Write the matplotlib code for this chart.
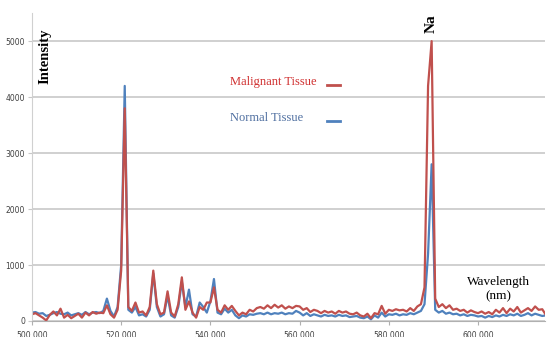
import numpy as np
import matplotlib
matplotlib.use("Agg")
import matplotlib.pyplot as plt

# sample grid of the spectrometer (nm)
wavelength = np.arange(145) * 0.8 + 500.0

malignant = [
    120, 140, 100, 60, 10, 110, 170, 100, 220, 60,
    110, 50, 90, 130, 60, 150, 100, 160, 130, 150,
    140, 280, 120, 60, 200, 900, 3800, 250, 180, 330,
    150, 170, 100, 250, 900, 300, 120, 150, 530, 150,
    80, 300, 780, 200, 350, 150, 60, 250, 200, 330,
    330, 600, 200, 150, 280, 200, 270, 180, 100, 150,
    120, 200, 170, 230, 250, 220, 280, 230, 290, 240,
    280, 220, 260, 230, 270, 260, 200, 230, 160, 200,
    180, 140, 180, 150, 170, 130, 180, 150, 170, 130,
    120, 150, 100, 80, 130, 50, 140, 120, 270, 130,
    200, 180, 210, 190, 200, 170, 230, 180, 260, 300,
    600, 4200, 5000, 400, 250, 300, 230, 280, 200, 220,
    180, 200, 150, 190, 160, 140, 170, 130, 160, 120,
    200, 150, 230, 140, 220, 170, 250, 150, 190, 230,
    180, 260, 200, 210, 110,
]

normal = [
    150, 160, 130, 140, 90, 110, 140, 160, 130, 120,
    150, 100, 120, 140, 110, 160, 120, 150, 160, 140,
    180, 400, 180, 80, 250, 1000, 4200, 200, 150, 250,
    100, 120, 80, 200, 850, 250, 80, 120, 450, 100,
    60, 250, 700, 250, 560, 120, 80, 330, 250, 150,
    350, 750, 150, 120, 220, 150, 200, 100, 50, 100,
    80, 120, 110, 130, 140, 120, 150, 120, 140, 130,
    150, 120, 140, 130, 180, 150, 100, 140, 90, 120,
    100, 80, 110, 90, 100, 80, 110, 90, 100, 70,
    80, 90, 60, 50, 80, 30, 100, 60, 150, 80,
    120, 110, 130, 100, 120, 110, 140, 120, 150, 180,
    300, 1200, 2800, 200, 150, 180, 130, 150, 120, 130,
    100, 120, 90, 110, 100, 80, 90, 60, 90, 70,
    100, 80, 110, 90, 120, 100, 130, 90, 110, 140,
    100, 130, 110, 90, 100,
]

y_ticks = [0, 1000, 2000, 3000, 4000, 5000]
x_ticks = [500, 520, 540, 560, 580, 600]

RED = "#c0504d"
BLUE = "#4f81bd"

fig = plt.figure(figsize=(5.51, 3.37), dpi=100)
ax = fig.add_axes([0.058, 0.0475, 0.931, 0.9135])

ax.plot(wavelength, normal, color=BLUE, lw=1.6)
ax.plot(wavelength, malignant, color=RED, lw=1.6)

ax.set_xlim(500, 615)
ax.set_ylim(0, 5500)
ax.set_yticks(y_ticks)
ax.set_yticklabels([str(v) for v in y_ticks])
ax.set_xticks(x_ticks)
ax.set_xticklabels([f"{v}.000" for v in x_ticks])
ax.grid(axis="y", color="#c8c8c8", lw=1.2)
ax.set_axisbelow(True)
for s in ["top", "right"]:
    ax.spines[s].set_visible(False)
ax.spines["left"].set_color("#d0d0d0")
ax.spines["bottom"].set_color("#b0b0b0")
ax.tick_params(axis="y", length=3, color="#c8c8c8", labelsize=5.5,
               labelcolor="#404040", pad=2)
ax.tick_params(axis="x", length=3, color="#b0b0b0", labelsize=5.5,
               labelcolor="#404040", pad=4)

serif = "Liberation Serif"
ax.text(0.012, 0.95, "Intensity", transform=ax.transAxes, rotation=90,
        family=serif, fontsize=10.5, fontweight="bold", ha="left", va="top")
ax.text(589.6, 5150, "Na", rotation=90, family=serif, fontsize=11,
        fontweight="bold", ha="center", va="bottom")
ax.text(0.386, 0.776, "Malignant Tissue", transform=ax.transAxes,
        family=serif, fontsize=9, color="#d03030", va="center")
ax.plot([0.575, 0.6], [0.768, 0.768], transform=ax.transAxes,
        color=RED, lw=2)
ax.text(0.386, 0.659, "Normal Tissue", transform=ax.transAxes,
        family=serif, fontsize=9, color="#4f6fa0", va="center")
ax.plot([0.575, 0.6], [0.651, 0.651], transform=ax.transAxes,
        color=BLUE, lw=2)
ax.text(0.91, 0.104, "Wavelength\n(nm)", transform=ax.transAxes,
        family=serif, fontsize=9.5, ha="center", va="center",
        linespacing=1.3)

fig.savefig("out.png", dpi=100)
